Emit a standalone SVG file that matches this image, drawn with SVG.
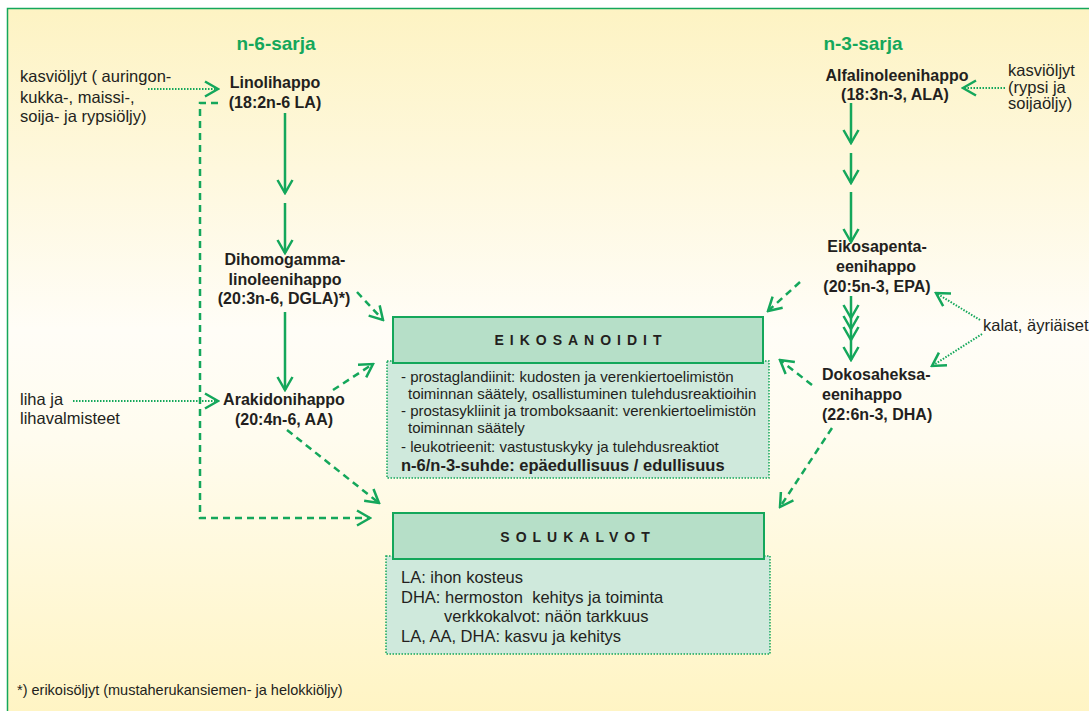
<svg xmlns="http://www.w3.org/2000/svg" width="1089" height="711" viewBox="0 0 1089 711">
  <style>
    text { font-family: "Liberation Sans", Arial, sans-serif; fill: #231f20; }
    .node { font-size: 16px; font-weight: bold; text-anchor: middle; }
    .node-left { font-size: 16px; font-weight: bold; text-anchor: start; }
    .series { font-size: 19px; font-weight: bold; fill: #14a75b; text-anchor: middle; }
    .src { font-size: 16.5px; }
    .body15 { font-size: 15px; }
    .body16 { font-size: 16.5px; white-space: pre; }
    .hdr { font-size: 14px; font-weight: bold; letter-spacing: 6px; text-anchor: middle; }
    .solid { fill: none; stroke: #14a75b; stroke-width: 2.5; }
    .dash { fill: none; stroke: #14a75b; stroke-width: 2.5; stroke-dasharray: 7 5; }
    .dot { fill: none; stroke: #14a75b; stroke-width: 2; stroke-dasharray: 1.5 1.5; }
    .boxhead { fill: #b6dfc8; stroke: #14a75b; stroke-width: 2; }
    .boxbody { fill: #cfe9dc; stroke: #14a75b; stroke-width: 1.5; stroke-dasharray: 1.5 1.5; }
  </style>
  <defs>
    <linearGradient id="bg" x1="0" y1="0" x2="0" y2="1">
      <stop offset="0" stop-color="#fdf3c3"/>
      <stop offset="0.45" stop-color="#fffdf7"/>
      <stop offset="0.6" stop-color="#fffcef"/>
      <stop offset="1" stop-color="#fff4c2"/>
    </linearGradient>
    <marker id="head" viewBox="-16 -10 18 20" refX="0" refY="0" markerWidth="18" markerHeight="20" markerUnits="userSpaceOnUse" orient="auto">
      <path d="M-13,-7.5 L0,0 L-13,7.5" fill="none" stroke="#14a75b" stroke-width="2.5" stroke-dasharray="none"/>
    </marker>
  </defs>

  <!-- page -->
  <rect x="0" y="0" width="1089" height="711" fill="#ffffff"/>
  <rect x="7.5" y="8.5" width="1095" height="715" fill="url(#bg)" stroke="#14a75b" stroke-width="1.5"/>

  <!-- series titles -->
  <text class="series" x="276" y="50">n-6-sarja</text>
  <text class="series" x="863" y="50">n-3-sarja</text>

  <!-- connectors -->
  <g id="connectors">
    <!-- n-6 chain -->
    <path class="solid" d="M285,113 V193" marker-end="url(#head)"/>
    <path class="solid" d="M285,203 V253" marker-end="url(#head)"/>
    <path class="solid" d="M285,312 V390" marker-end="url(#head)"/>
    <!-- n-3 chain -->
    <path class="solid" d="M851,103 V143" marker-end="url(#head)"/>
    <path class="solid" d="M851,153 V183" marker-end="url(#head)"/>
    <path class="solid" d="M851,192 V242" marker-end="url(#head)"/>
    <path class="solid" d="M851,296 V360" marker-end="url(#head)"/>
    <path class="solid" d="M843.5,305 L851,318 L858.5,305 M843.5,316 L851,329 L858.5,316 M843.5,327 L851,340 L858.5,327"/>
    <!-- dietary sources -->
    <path class="dot" d="M148,89 H218" marker-end="url(#head)"/>
    <path class="dot" d="M73,401 H218" marker-end="url(#head)"/>
    <path class="dot" d="M1005,88 H963" marker-end="url(#head)"/>
    <path class="dot" d="M980,320 L936,293" marker-end="url(#head)"/>
    <path class="dot" d="M982,334 L932,366" marker-end="url(#head)"/>
    <!-- to eicosanoids / membranes -->
    <path class="dash" d="M218,103 H200 V518 H370" marker-end="url(#head)"/>
    <path class="dash" d="M357,292 L383,320" marker-end="url(#head)"/>
    <path class="dash" d="M333,390 L373,364" marker-end="url(#head)"/>
    <path class="dash" d="M287,430 L379,503" marker-end="url(#head)"/>
    <path class="dash" d="M800,282 L768,311" marker-end="url(#head)"/>
    <path class="dash" d="M812,385 L780,360" marker-end="url(#head)"/>
    <path class="dash" d="M832,428 L780,507" marker-end="url(#head)"/>
  </g>

  <!-- n-6 nodes -->
  <g id="la">
    <text class="node" x="275" y="88">Linolihappo</text>
    <text class="node" x="275" y="108">(18:2n-6 LA)</text>
  </g>
  <g id="dgla">
    <text class="node" x="285" y="265">Dihomogamma-</text>
    <text class="node" x="285" y="285">linoleenihappo</text>
    <text class="node" x="284" y="304">(20:3n-6, DGLA)*)</text>
  </g>
  <g id="aa">
    <text class="node" x="284" y="405">Arakidonihappo</text>
    <text class="node" x="284" y="425">(20:4n-6, AA)</text>
  </g>

  <!-- n-3 nodes -->
  <g id="ala">
    <text class="node" x="897" y="81">Alfalinoleenihappo</text>
    <text class="node" x="895" y="100">(18:3n-3, ALA)</text>
  </g>
  <g id="epa">
    <text class="node" x="877" y="252">Eikosapenta-</text>
    <text class="node" x="876" y="272">eenihappo</text>
    <text class="node" x="877" y="292">(20:5n-3, EPA)</text>
  </g>
  <g id="dha">
    <text class="node-left" x="822" y="380">Dokosaheksa-</text>
    <text class="node-left" x="822" y="400">eenihappo</text>
    <text class="node-left" x="822" y="420">(22:6n-3, DHA)</text>
  </g>

  <!-- dietary sources -->
  <g id="src-plant-n6">
    <text class="src" x="20" y="82">kasviöljyt ( auringon-</text>
    <text class="src" x="20" y="103">kukka-, maissi-,</text>
    <text class="src" x="20" y="122">soija- ja rypsiöljy)</text>
  </g>
  <g id="src-meat">
    <text class="src" x="20" y="405">liha ja</text>
    <text class="src" x="20" y="424">lihavalmisteet</text>
  </g>
  <g id="src-plant-n3">
    <text class="src" x="1008" y="76">kasviöljyt</text>
    <text class="src" x="1008" y="93">(rypsi ja</text>
    <text class="src" x="1008" y="109">soijaöljy)</text>
  </g>
  <g id="src-fish">
    <text class="src" x="983" y="331">kalat, äyriäiset</text>
  </g>

  <!-- eicosanoids -->
  <g id="eikosanoidit">
    <rect class="boxbody" x="387" y="361" width="382" height="117"/>
    <rect class="boxhead" x="393" y="317" width="370" height="46"/>
    <text class="hdr" x="581" y="345">EIKOSANOIDIT</text>
    <text class="body15" x="401" y="382">- prostaglandiinit: kudosten ja verenkiertoelimistön</text>
    <text class="body15" x="408" y="399">toiminnan säätely, osallistuminen tulehdusreaktioihin</text>
    <text class="body15" x="401" y="416">- prostasykliinit ja tromboksaanit: verenkiertoelimistön</text>
    <text class="body15" x="408" y="433">toiminnan säätely</text>
    <text class="body15" x="401" y="452">- leukotrieenit: vastustuskyky ja tulehdusreaktiot</text>
    <text x="401" y="471" font-size="16.5" font-weight="bold">n-6/n-3-suhde: epäedullisuus / edullisuus</text>
  </g>

  <!-- cell membranes -->
  <g id="solukalvot">
    <rect class="boxbody" x="386" y="556" width="384" height="98"/>
    <rect class="boxhead" x="393" y="513" width="371" height="46"/>
    <text class="hdr" x="578" y="542">SOLUKALVOT</text>
    <text class="body16" x="401" y="583">LA: ihon kosteus</text>
    <text class="body16" x="401" y="603">DHA: hermoston  kehitys ja toiminta</text>
    <text class="body16" x="444" y="622">verkkokalvot: näön tarkkuus</text>
    <text class="body16" x="401" y="642">LA, AA, DHA: kasvu ja kehitys</text>
  </g>

  <!-- footnote -->
  <text x="17" y="695" font-size="14.5">*) erikoisöljyt (mustaherukansiemen- ja helokkiöljy)</text>
</svg>
